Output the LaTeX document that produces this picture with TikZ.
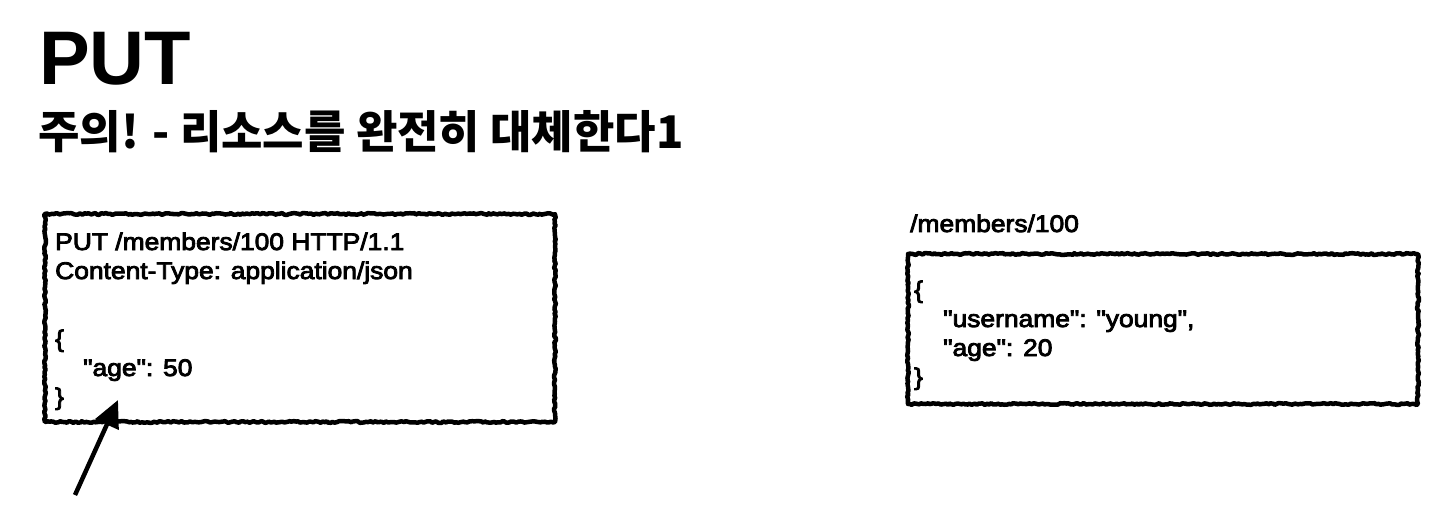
\documentclass[tikz,border=0pt]{standalone}
\usepackage{fontspec}
\setmainfont{Liberation Sans}[Ligatures=TeXOff]
\newfontfamily\boxfont{Liberation Sans}[Ligatures=TeXOff,FakeStretch=1.1,FakeBold=3.5]
\newfontfamily\kofont{Noto Sans CJK KR}
\usetikzlibrary{decorations.pathmorphing,arrows.meta}
\tikzset{
  roughbox/.style={draw=black,line width=4.5pt,line join=round,
    decorate,decoration={random steps,segment length=2.2pt,amplitude=0.9pt}},
  bodytext/.style={inner sep=0pt,anchor=base west,align=left,
    font=\boxfont\fontsize{24}{29}\selectfont},
  pointer/.style={line width=4.5pt,-{Triangle[length=27pt,width=25pt]}}
}
\begin{document}
\begin{tikzpicture}[x=1pt,y=-1pt]
    \useasboundingbox (0,0) rectangle (1449,505);

    % Titel
    \node[inner sep=0pt,anchor=base west,font=\fontsize{76}{76}\selectfont\bfseries]
      (title) at (39,85) {PUT};
    \node[inner sep=0pt,anchor=base west,font=\kofont\fontsize{45}{45}\selectfont\bfseries]
      (subtitle) at (38,149) {주의! - 리소스를 완전히 대체한다1};

    % Anfrage
    \coordinate (reqNW) at (45,214);
    \coordinate (reqSE) at (555,422);
    \draw[roughbox] (reqNW) rectangle (reqSE);
    \node[bodytext] (request) at (55,405)
      {PUT /members/100 HTTP/1.1\\
       Content-Type: application/json\\[39pt]
       \{\\
       \hspace*{28pt}"age": 50\\
       \}};

    % Ressource
    \node[bodytext] (path) at (910,232) {/members/100};
    \coordinate (resNW) at (908,254);
    \coordinate (resSE) at (1418,404);
    \draw[roughbox] (resNW) rectangle (resSE);
    \node[bodytext] (resource) at (914,385)
      {\{\\
       \hspace*{29pt}"username": "young",\\
       \hspace*{29pt}"age": 20\\
       \}};

    % Pfeil
    \coordinate (tail) at (75,495);
    \coordinate (tip) at (118,400);
    \draw[pointer] (tail) -- (tip);
\end{tikzpicture}
\end{document}
